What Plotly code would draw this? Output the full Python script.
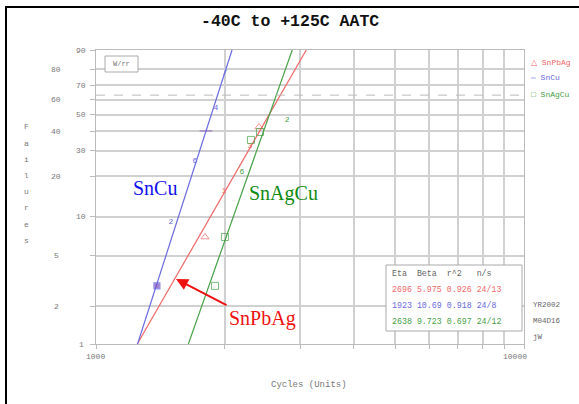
import math
import plotly.graph_objects as go

# ---- data ----
series_names = ["SnPbAg", "SnCu", "SnAgCu"]
eta = [2696, 1923, 2638]
beta = [5.975, 10.69, 9.723]
r2 = [0.926, 0.918, 0.697]
ns = ["24/13", "24/8", "24/12"]

# failure points (cycles, % failed)
snpbag_cycles = [1798, 1991, 2290, 2403]
snpbag_pct = [7.0, 15.6, 32.3, 42.6]
sncu_cycles = [1388, 1497, 1703, 1807, 1907, 2001]
sncu_pct = [2.9, 9.1, 25.6, 40.3, 54.5, 77.8]
snagcu_cycles = [1897, 2001, 2193, 2302, 2416, 2795]
snagcu_pct = [2.9, 7.0, 21.5, 35.4, 39.7, 46.8]

y_grid_pct = [1, 2, 5, 10, 20, 30, 40, 50, 60, 70, 80, 90]
y_left_labels = [80, 60, 40, 20, 5, 2]
y_right_labels = [90, 70, 50, 30, 10, 1]
x_grid = [1000, 2000, 3000, 4000, 5000, 6000, 7000, 8000, 9000, 10000]

line_colors = ["#f06868", "#6a6ae0", "#46a046"]
text_colors = ["#ee1111", "#1010ee", "#108a10"]

def W(p):
    return math.log(-math.log(1 - p / 100.0))

# plot geometry (reference pixels)
L, R, T, B = 96, 524, 50, 344
WID, HEI = 579, 404
def px(x):
    return (x - L) / (R - L)
def py(y):
    return (B - y) / (B - T)

mono = "Liberation Mono"
fig = go.Figure()

# fit lines
fits = [1, 2, 5, 10, 20, 40, 63.2, 80, 90]
for i in range(3):
    ts = [eta[i] * (-math.log(1 - f / 100)) ** (1 / beta[i]) for f in fits]
    fig.add_trace(go.Scatter(x=ts, y=[W(f) for f in fits], mode="lines",
                             line=dict(color=line_colors[i], width=1.2),
                             hoverinfo="skip", showlegend=False))

# points
fig.add_trace(go.Scatter(x=snpbag_cycles, y=[W(p) for p in snpbag_pct], mode="markers+text",
                         marker=dict(symbol=["triangle-up-open", "circle", "circle", "triangle-up-open"],
                                     size=[7, 0, 0, 7], color=line_colors[0], line=dict(width=1)),
                         text=["", "1", "3", ""], textposition="middle center",
                         textfont=dict(family=mono, size=8, color=line_colors[0]), showlegend=False))
fig.add_trace(go.Scatter(x=sncu_cycles, y=[W(p) for p in sncu_pct], mode="markers+text",
                         marker=dict(symbol=["square", "circle", "circle", "line-ew-open", "circle", "circle"],
                                     size=[6, 0, 0, 9, 0, 0], color="#8050c0", line=dict(width=1.2, color="#6a6ae0")),
                         text=["", "2", "6", "", "4", "/"], textposition="middle center",
                         textfont=dict(family=mono, size=8, color=line_colors[1]), showlegend=False))
fig.add_trace(go.Scatter(x=snagcu_cycles, y=[W(p) for p in snagcu_pct], mode="markers+text",
                         marker=dict(symbol=["square-open", "square-open", "circle", "square-open", "square-open", "circle"],
                                     size=[7, 7, 0, 7, 7, 0], color=line_colors[2], line=dict(width=1)),
                         text=["", "", "6", "", "", "2"], textposition="middle center",
                         textfont=dict(family=mono, size=8, color=line_colors[2]), showlegend=False))

ann = []
shapes = []
gray = "#777777"

# 63.2% dashed line
shapes.append(dict(type="line", xref="paper", yref="y", x0=0, x1=1, y0=W(63.2), y1=W(63.2),
                   line=dict(color="#bbbbbb", width=1, dash="dash")))

# y labels
for p in y_left_labels:
    ann.append(dict(xref="paper", yref="y", x=px(56), y=W(p), text=str(p), showarrow=False,
                    font=dict(family=mono, size=8, color=gray), xanchor="center", yanchor="middle"))
for p in y_right_labels:
    ann.append(dict(xref="paper", yref="y", x=px(81), y=W(p), text=str(p), showarrow=False,
                    font=dict(family=mono, size=8, color=gray), xanchor="center", yanchor="middle"))
# x labels
ann.append(dict(xref="paper", yref="paper", x=px(95), y=py(356), text="1000", showarrow=False,
                font=dict(family=mono, size=8, color=gray), xanchor="center", yanchor="middle"))
ann.append(dict(xref="paper", yref="paper", x=px(515), y=py(356), text="10000", showarrow=False,
                font=dict(family=mono, size=8, color=gray), xanchor="center", yanchor="middle"))
ann.append(dict(xref="paper", yref="paper", x=px(309), y=py(385), text="Cycles (Units)", showarrow=False,
                font=dict(family=mono, size=9, color=gray), xanchor="center", yanchor="middle"))
# Failures vertical
for k, ch in enumerate("Failures"):
    ann.append(dict(xref="paper", yref="paper", x=px(26), y=py(127 + k * 16.2), text=ch, showarrow=False,
                    font=dict(family=mono, size=8, color=gray), xanchor="center", yanchor="middle"))
# title
ann.append(dict(xref="paper", yref="paper", x=px(290), y=py(22), text="<b>-40C to +125C AATC</b>",
                showarrow=False, font=dict(family=mono, size=16.5, color="#111111"),
                xanchor="center", yanchor="middle"))
# W/rr box
shapes.append(dict(type="rect", xref="paper", yref="paper", x0=px(105), x1=px(138), y0=py(56), y1=py(72),
                   line=dict(color="#aaaaaa", width=1), fillcolor="white"))
ann.append(dict(xref="paper", yref="paper", x=px(121.5), y=py(64), text="W/rr", showarrow=False,
                font=dict(family=mono, size=7, color=gray), xanchor="center", yanchor="middle"))
# legend at right
leg_sym = ["\u25b3", "\u21d4", "\u25a1"]
leg_y = [62, 77, 94]
for i in range(3):
    ann.append(dict(xref="paper", yref="paper", x=px(529), y=py(leg_y[i]),
                    text=leg_sym[i] + " " + series_names[i], showarrow=False,
                    font=dict(family=mono, size=8, color=line_colors[i]), xanchor="left", yanchor="middle"))
# stats box
shapes.append(dict(type="rect", xref="paper", yref="paper", x0=px(386), x1=px(522), y0=py(265), y1=py(331),
                   line=dict(color="#aaaaaa", width=1), fillcolor="white"))
ann.append(dict(xref="paper", yref="paper", x=px(390), y=py(273), text="Eta  Beta  r^2   n/s",
                showarrow=False, font=dict(family=mono, size=8.3, color="#666666"),
                xanchor="left", yanchor="middle"))
row_y = [289, 305, 321]
for i in range(3):
    b = ("%.4g" % beta[i]) if beta[i] >= 10 else ("%.3f" % beta[i])
    s = "%d %s %.3f %s" % (eta[i], b, r2[i], ns[i])
    ann.append(dict(xref="paper", yref="paper", x=px(390), y=py(row_y[i]), text=s,
                    showarrow=False, font=dict(family=mono, size=8.3, color=line_colors[i]),
                    xanchor="left", yanchor="middle"))
for txt, yy in [("YR2002", 305), ("M04D16", 321), ("jW", 337)]:
    ann.append(dict(xref="paper", yref="paper", x=px(531), y=py(yy), text=txt, showarrow=False,
                    font=dict(family=mono, size=7.5, color="#666666"), xanchor="left", yanchor="middle"))
# series labels
ann.append(dict(xref="paper", yref="paper", x=px(131), y=py(188), text="SnCu", showarrow=False,
                font=dict(family="Liberation Serif", size=20, color=text_colors[1]), xanchor="left", yanchor="middle"))
ann.append(dict(xref="paper", yref="paper", x=px(247), y=py(193), text="SnAgCu", showarrow=False,
                font=dict(family="Liberation Serif", size=20, color=text_colors[2]), xanchor="left", yanchor="middle"))
ann.append(dict(xref="paper", yref="paper", x=px(227), y=py(318), text="SnPbAg", showarrow=False,
                font=dict(family="Liberation Serif", size=20, color=text_colors[0]), xanchor="left", yanchor="middle"))
# arrow
ann.append(dict(xref="paper", yref="paper", x=px(176), y=py(279), ax=52, ay=27,
                text="", showarrow=True, arrowhead=2, arrowsize=1.2,
                arrowwidth=2, arrowcolor="#ee1111"))
# outer black border (left/top visible)
shapes.append(dict(type="rect", xref="paper", yref="paper", x0=px(6), x1=px(600), y0=py(7), y1=py(430),
                   line=dict(color="black", width=2)))

fig.update_layout(
    width=WID, height=HEI,
    margin=dict(l=L, r=WID - R, t=T, b=HEI - B, pad=0),
    paper_bgcolor="white", plot_bgcolor="white",
    showlegend=False, hovermode=False,
    annotations=ann, shapes=shapes,
    xaxis=dict(type="log", range=[3, 4], tickvals=x_grid, showticklabels=False,
               ticks="outside", ticklen=4, tickcolor="#bbbbbb",
               showgrid=True, gridcolor="#d0d0d0", gridwidth=1.5,
               showline=True, linecolor="#bbbbbb", mirror=True, zeroline=False),
    yaxis=dict(range=[W(1), W(90)], tickvals=[W(p) for p in y_grid_pct], showticklabels=False,
               ticks="outside", ticklen=5, tickcolor="#bbbbbb",
               showgrid=True, gridcolor="#d0d0d0", gridwidth=1.5,
               showline=True, linecolor="#bbbbbb", mirror=True, zeroline=False),
)
fig.write_html("out.html", config={"displayModeBar": False},
               post_script="document.body.style.margin='0';document.body.style.overflow='hidden';")
